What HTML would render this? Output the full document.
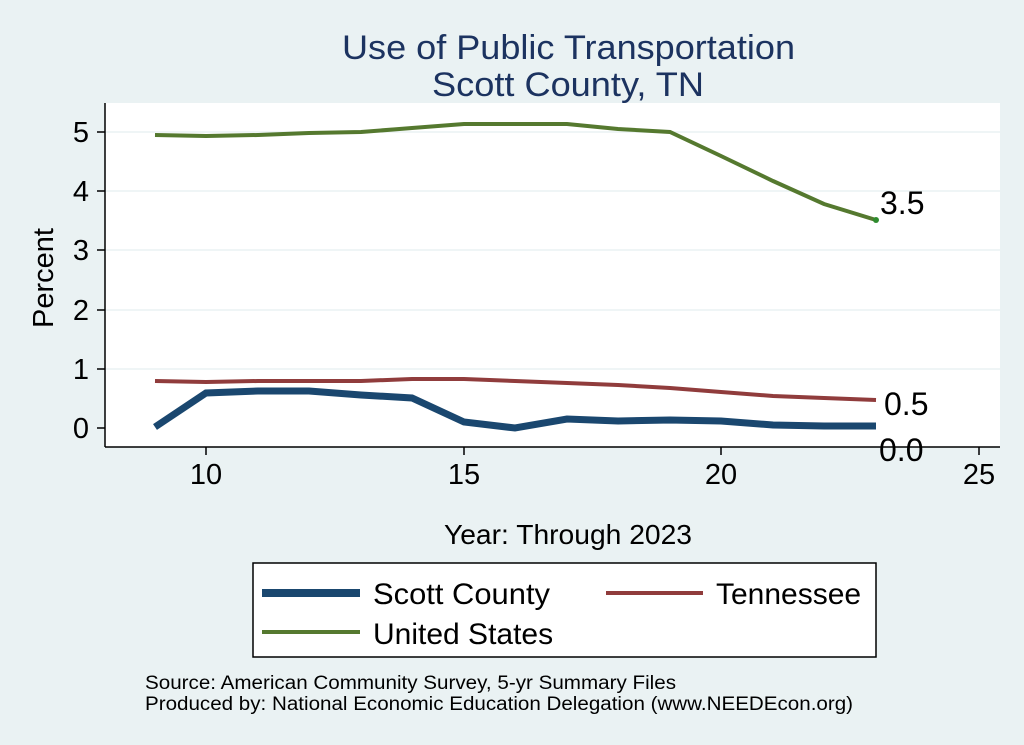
<!DOCTYPE html>
<html><head><meta charset="utf-8"><style>
body{margin:0;background:#eaf2f3;}
svg{display:block;font-family:"Liberation Sans",Arial,sans-serif;}
</style></head><body>
<svg width="1024" height="745" viewBox="0 0 1024 745">
<rect x="0" y="0" width="1024" height="745" fill="#eaf2f3"/>
<rect x="105" y="103" width="895" height="344" fill="#fff"/>
<text x="342" y="59" font-size="34" fill="#1c3360" textLength="453" lengthAdjust="spacingAndGlyphs">Use of Public Transportation</text>
<text x="432" y="96" font-size="34" fill="#1c3360" textLength="272" lengthAdjust="spacingAndGlyphs">Scott County, TN</text>
<g stroke="#eaf2f3" stroke-width="1.5">
<line x1="105" x2="1000" y1="132" y2="132"/><line x1="105" x2="1000" y1="191" y2="191"/>
<line x1="105" x2="1000" y1="250" y2="250"/><line x1="105" x2="1000" y1="310" y2="310"/>
<line x1="105" x2="1000" y1="369" y2="369"/>
</g>
<g stroke="#000" stroke-width="1.5">
<line x1="105" x2="105" y1="103" y2="447"/><line x1="105" x2="1000" y1="447" y2="447"/>
<line x1="97" x2="105" y1="132" y2="132"/><line x1="97" x2="105" y1="191" y2="191"/>
<line x1="97" x2="105" y1="250" y2="250"/><line x1="97" x2="105" y1="310" y2="310"/>
<line x1="97" x2="105" y1="369" y2="369"/><line x1="97" x2="105" y1="428" y2="428"/>
<line x1="206" x2="206" y1="447" y2="455"/><line x1="464" x2="464" y1="447" y2="455"/>
<line x1="721" x2="721" y1="447" y2="455"/><line x1="979" x2="979" y1="447" y2="455"/>
</g>
<g font-size="29" text-anchor="end" fill="#000">
<text x="89" y="142">5</text><text x="89" y="201">4</text><text x="89" y="260">3</text>
<text x="89" y="320">2</text><text x="89" y="379">1</text><text x="89" y="438">0</text>
</g>
<g font-size="29" text-anchor="middle" fill="#000">
<text x="206" y="484">10</text><text x="464" y="484">15</text><text x="721" y="484">20</text><text x="979" y="484">25</text>
</g>
<text x="53" y="278" font-size="29" text-anchor="middle" transform="rotate(-90 53 278)">Percent</text>
<text x="444" y="544" font-size="28" textLength="248" lengthAdjust="spacingAndGlyphs">Year: Through 2023</text>
<polyline fill="none" stroke="#55792f" stroke-width="4" points="155,135 206,136 258,135 309,133 361,132 412,128 464,124 515,124 567,124 618,129 670,132 721,156 773,181 824,204 876,220"/>
<circle cx="876" cy="220" r="3" fill="#2e8b2e"/>
<polyline fill="none" stroke="#903c3c" stroke-width="4" points="155,381 206,382 258,381 309,381 361,381 412,379 464,379 515,381 567,383 618,385 670,388 721,392 773,396 824,398 876,400"/>
<polyline fill="none" stroke="#1a476f" stroke-width="7" points="155,427 206,393 258,391 309,391 361,395 412,398 464,422 515,428 567,419 618,421 670,420 721,421 773,425 824,426 876,426"/>
<g font-size="32" fill="#000">
<text x="880" y="214">3.5</text><text x="884" y="415">0.5</text><text x="879" y="461">0.0</text>
</g>
<rect x="253" y="563" width="623" height="94" fill="#fff" stroke="#000" stroke-width="1.5"/>
<line x1="262" x2="360" y1="593" y2="593" stroke="#1a476f" stroke-width="8"/>
<text x="373" y="604" font-size="30" textLength="177" lengthAdjust="spacingAndGlyphs">Scott County</text>
<line x1="606" x2="703" y1="593" y2="593" stroke="#903c3c" stroke-width="4"/>
<text x="716" y="604" font-size="30">Tennessee</text>
<line x1="262" x2="360" y1="632" y2="632" stroke="#55792f" stroke-width="4"/>
<text x="373" y="644" font-size="30">United States</text>
<text x="145" y="689" font-size="19" textLength="531" lengthAdjust="spacingAndGlyphs">Source: American Community Survey, 5-yr Summary Files</text>
<text x="145" y="710" font-size="19" textLength="708" lengthAdjust="spacingAndGlyphs">Produced by: National Economic Education Delegation (www.NEEDEcon.org)</text>
</svg>
</body></html>
